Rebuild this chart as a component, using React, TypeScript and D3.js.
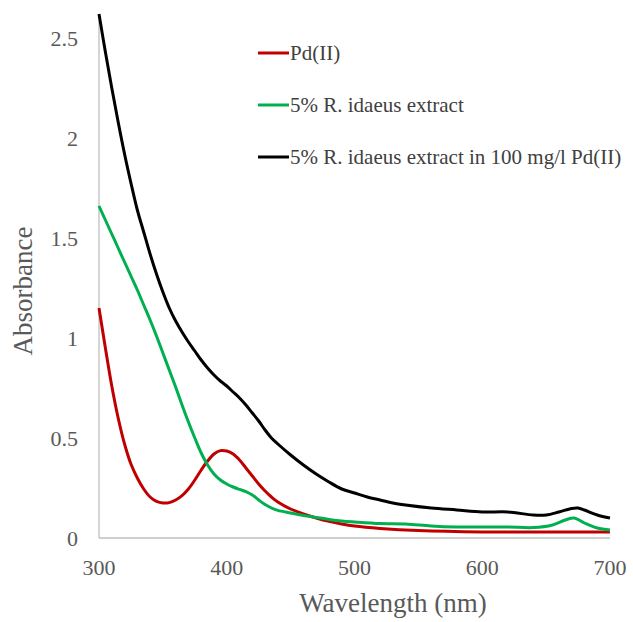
import React from "react";
import * as d3 from "d3";

const wlRed = [300,305,310,315,320,325,330,335,340,345,350,355,360,365,370,375,380,385,390,395,400,405,410,415,420,425,430,435,440,450,460,470,480,490,500,520,550,600,650,700];
const absRed = [1.15,0.95,0.76,0.60,0.47,0.37,0.30,0.245,0.205,0.183,0.175,0.177,0.19,0.212,0.245,0.29,0.34,0.385,0.42,0.437,0.435,0.42,0.39,0.35,0.31,0.27,0.235,0.205,0.18,0.145,0.12,0.1,0.083,0.07,0.06,0.048,0.037,0.03,0.03,0.03];

const wlGreen = [300,305,310,315,320,325,330,335,340,345,350,355,360,365,370,375,380,385,390,395,400,405,410,415,420,425,430,435,440,450,460,470,480,490,500,520,540,560,580,600,620,640,655,665,672,680,690,700];
const absGreen = [1.66,1.59,1.52,1.45,1.38,1.31,1.24,1.165,1.09,1.01,0.925,0.84,0.755,0.665,0.58,0.50,0.425,0.365,0.32,0.29,0.27,0.255,0.243,0.232,0.215,0.19,0.167,0.15,0.138,0.125,0.113,0.103,0.093,0.085,0.08,0.072,0.07,0.06,0.055,0.055,0.055,0.052,0.065,0.09,0.1,0.075,0.05,0.04];

const wlBlack = [300,305,310,315,320,325,330,335,340,345,350,355,360,365,370,375,380,385,390,395,400,405,410,415,420,425,430,435,440,450,460,470,480,490,500,510,520,530,540,560,580,600,620,640,650,660,670,675,680,690,700];
const absBlack = [2.62,2.43,2.25,2.08,1.92,1.775,1.64,1.53,1.42,1.32,1.23,1.15,1.085,1.03,0.98,0.935,0.89,0.85,0.815,0.785,0.76,0.73,0.70,0.665,0.625,0.585,0.54,0.50,0.47,0.415,0.365,0.32,0.28,0.245,0.225,0.205,0.19,0.175,0.165,0.15,0.14,0.13,0.13,0.115,0.115,0.13,0.148,0.15,0.14,0.115,0.1];

const seriesNames = ["Pd(II)", "5% R. idaeus extract", "5% R. idaeus extract in 100 mg/l Pd(II)"];
const seriesColors = ["#C00000", "#00B050", "#000000"];
const xTicks = [300, 400, 500, 600, 700];
const yTicks = [0, 0.5, 1, 1.5, 2, 2.5];
const xTitle = "Wavelength (nm)";
const yTitle = "Absorbance";

export default function App() {
  const W = 633, H = 622;
  const left = 99, right = 610, top = 14, bottom = 538;
  const x = d3.scaleLinear().domain([300, 700]).range([left, right]);
  const y = d3.scaleLinear().domain([0, 2.62]).range([bottom, top]);
  const line = d3.line<[number, number]>().x(d => x(d[0])).y(d => y(d[1])).curve(d3.curveCatmullRom.alpha(0.5));
  const series = [
    wlRed.map((w, i) => [w, absRed[i]] as [number, number]),
    wlGreen.map((w, i) => [w, absGreen[i]] as [number, number]),
    wlBlack.map((w, i) => [w, absBlack[i]] as [number, number]),
  ];
  const ts = { fontFamily: "Liberation Serif" };
  return (
    <svg width={W} height={H} style={{ position: "absolute", left: 0, top: 0, background: "#fff" }}>
      <line x1={left} x2={left} y1={top} y2={bottom} stroke="#BFBFBF" strokeWidth={1.3} />
      <line x1={left} x2={right} y1={bottom} y2={bottom} stroke="#BFBFBF" strokeWidth={1.3} />
      {yTicks.map(t => (
        <text key={t} x={78} y={y(t)} dy="0.35em" textAnchor="end" fontSize={22} fill="#595959" style={ts}>{t}</text>
      ))}
      {xTicks.map(t => (
        <text key={t} x={x(t)} y={567} dy="0.35em" textAnchor="middle" fontSize={22} fill="#595959" style={ts}>{t}</text>
      ))}
      {series.map((s, i) => (
        <path key={i} d={line(s) || ""} fill="none" stroke={seriesColors[i]} strokeWidth={3} />
      ))}
      {seriesNames.map((n, i) => (
        <g key={n} transform={`translate(258, ${53 + i * 52})`}>
          <line x1={0} x2={31} y1={0} y2={0} stroke={seriesColors[i]} strokeWidth={3} />
          <text x={32} y={0} dy="0.35em" fontSize={21} fill="#404040" style={ts}>{n}</text>
        </g>
      ))}
      <text x={393} y={603} dy="0.35em" textAnchor="middle" fontSize={27} fill="#595959" style={ts}>{xTitle}</text>
      <text transform={`translate(23, 291) rotate(-90)`} dy="0.35em" textAnchor="middle" fontSize={27} fill="#595959" style={ts}>{yTitle}</text>
    </svg>
  );
}
